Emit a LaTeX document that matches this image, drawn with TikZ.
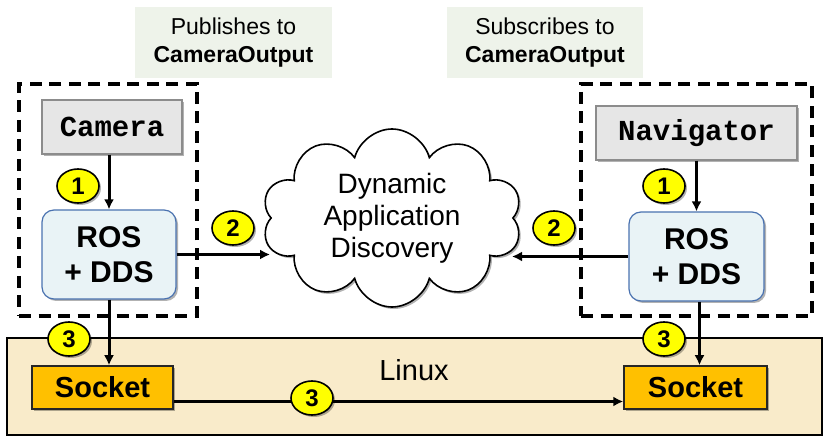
\documentclass[tikz,border=0pt]{standalone}
\usepackage{fontspec}
\setmainfont{Liberation Sans}
\setmonofont{Liberation Mono}
\usetikzlibrary{shapes.geometric,shapes.symbols,shadows,arrows.meta}
\definecolor{pubgreen}{HTML}{EEF3EA}
\definecolor{camgray}{HTML}{E6E6E6}
\definecolor{camborder}{HTML}{8C8C8C}
\definecolor{rosfill}{HTML}{E9F3F6}
\definecolor{rosborder}{HTML}{4A72B0}
\definecolor{linuxfill}{HTML}{F9EBCA}
\definecolor{sockfill}{HTML}{FFC000}
\definecolor{numfill}{HTML}{FFFF00}
\tikzset{
  shd/.style={drop shadow={shadow xshift=2pt,shadow yshift=-2pt,opacity=0.3,fill=black}},
  labelbox/.style={rectangle,fill=pubgreen,inner sep=0pt,align=center,
    font=\fontsize{23}{28}\selectfont},
  dashbox/.style={rectangle,draw=black,line width=3.6pt,dash pattern=on 12pt off 7.5pt,inner sep=0pt},
  appbox/.style={rectangle,fill=camgray,draw=camborder,line width=1.2pt,shd,inner sep=0pt,
    font=\fontsize{29}{32}\selectfont\ttfamily\bfseries},
  rosbox/.style={rectangle,rounded corners=12pt,fill=rosfill,draw=rosborder,line width=1.2pt,shd,
    inner sep=0pt,align=center,font=\fontsize{30}{35}\selectfont\bfseries},
  sockbox/.style={rectangle,fill=sockfill,draw=black!85,line width=1.5pt,shd,inner sep=0pt,
    font=\fontsize{29}{32}\selectfont\bfseries},
  num/.style={ellipse,fill=numfill,draw=black,line width=1.6pt,minimum width=42pt,minimum height=34pt,
    inner sep=0pt,shd,font=\fontsize{24}{26}\selectfont\bfseries},
  arr/.style={line width=3pt,-{Latex[length=10pt,width=10pt]}},
}
\begin{document}
\begin{tikzpicture}[x=1pt,y=-1pt]
\useasboundingbox (0,0) rectangle (830,443);
% Linux layer
\node[rectangle,fill=linuxfill,draw=black,line width=1.8pt,minimum width=815pt,minimum height=97pt,inner sep=0pt] (linux) at (414.5,386.5) {};
\node[font=\fontsize{29}{32}\selectfont] (linuxlbl) at (414,370) {Linux};
% label boxes
\node[labelbox,minimum width=197pt,minimum height=71pt] (pub) at (233.5,42.5) {Publishes to\\\textbf{CameraOutput}};
\node[labelbox,minimum width=196pt,minimum height=71pt] (sub) at (545,42.5) {Subscribes to\\\textbf{CameraOutput}};
% dashed containers
\node[dashbox,minimum width=178pt,minimum height=232pt] (ldash) at (108,200) {};
\node[dashbox,minimum width=231pt,minimum height=232pt] (rdash) at (696.5,200) {};
% applications
\node[appbox,minimum width=140pt,minimum height=54pt] (cam) at (112,127) {Camera};
\node[appbox,minimum width=201pt,minimum height=54pt] (nav) at (696.5,133) {Navigator};
% ROS + DDS
\node[rosbox,minimum width=134pt,minimum height=89pt] (lros) at (109,254.5) {ROS\\+ DDS};
\node[rosbox,minimum width=135pt,minimum height=89pt] (rros) at (696.5,256.5) {ROS\\+ DDS};
% cloud
\node[cloud,cloud puffs=10,cloud ignores aspect,draw=black,line width=1.6pt,fill=white,shd,
  minimum width=260pt,minimum height=178pt,inner sep=0pt,align=center,
  font=\fontsize{28}{32}\selectfont] (cloud) at (392,218) {Dynamic\\Application\\Discovery};
\coordinate (cloudr) at (512,253);
% sockets
\node[sockbox,minimum width=141pt,minimum height=43pt] (lsock) at (102.5,387.5) {Socket};
\node[sockbox,minimum width=143pt,minimum height=43pt] (rsock) at (695.5,387.5) {Socket};
% connectors
\draw[arr] (lros.north |- cam.south) -- (lros.north);
\draw[arr] (rros.north |- nav.south) -- (rros.north);
\draw[arr] (lros.east) -- (lros.east -| cloud.west);
\draw[arr] (rros.west) -- (rros.west -| cloudr);
\draw[arr] (lros.south) -- (lros.south |- lsock.north);
\draw[arr] ([xshift=3pt]rros.south) -- ([xshift=3pt]rros.south |- rsock.north);
\draw[arr] ([yshift=-14pt]lsock.east) -- ([yshift=-14pt]rsock.west);
% step numbers
\node[num] (c1l) at (78,186) {1};
\node[num] (c1r) at (664,186) {1};
\node[num] (c2l) at (233,228) {2};
\node[num] (c2r) at (554,228) {2};
\node[num] (c3l) at (69,339) {3};
\node[num] (c3r) at (664,339) {3};
\node[num] (c3b) at (312,398) {3};
\end{tikzpicture}
\end{document}
